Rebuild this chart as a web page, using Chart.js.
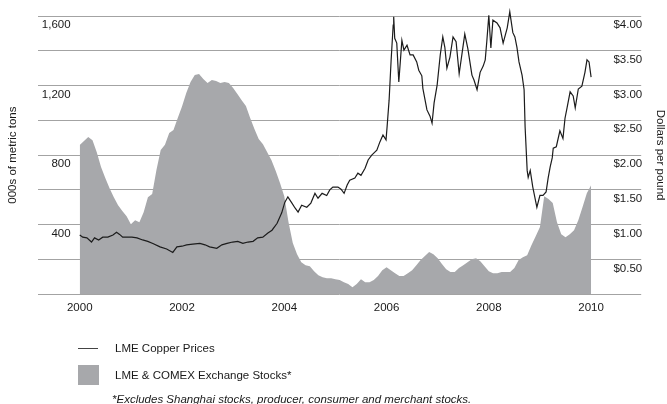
<!DOCTYPE html>
<html>
<head>
<meta charset="utf-8">
<script src="https://cdn.jsdelivr.net/npm/chart.js@4.4.1/dist/chart.umd.min.js"></script>
<style>
  html, body { margin: 0; padding: 0; background: #fff; }
  #wrap {
    position: relative;
    width: 667px;
    height: 404px;
    font-family: "Liberation Sans", Arial, Helvetica, sans-serif;
    color: #1a1a1a;
  }
  #chart { position: absolute; left: 0; top: 0; }
  .swatch { position: absolute; left: 78px; }
  .lbl { position: absolute; left: 115px; font-size: 11.5px; line-height: 14px; white-space: nowrap; }
  #note { position: absolute; left: 112px; top: 392px; font-size: 11.5px; line-height: 14px; font-style: italic; white-space: nowrap; }
</style>
</head>
<body>
<div id="wrap">
  <canvas id="chart" width="667" height="404"></canvas>
  <div id="legend"></div>
  <div id="note">*Excludes Shanghai stocks, producer, consumer and merchant stocks.</div>
</div>
<script>
// LME copper price, $ per pound
const priceYears = [
  2000.00, 2000.06, 2000.14, 2000.23, 2000.29, 2000.37, 2000.45, 2000.55, 2000.65, 2000.72,
  2000.78, 2000.84, 2000.94, 2001.02, 2001.12, 2001.23, 2001.33, 2001.43, 2001.57, 2001.70,
  2001.82, 2001.90, 2002.00, 2002.09, 2002.21, 2002.35, 2002.45, 2002.54, 2002.68, 2002.78,
  2002.88, 2002.99, 2003.09, 2003.19, 2003.29, 2003.39, 2003.48, 2003.58, 2003.68, 2003.76,
  2003.86, 2003.95, 2004.01, 2004.07, 2004.15, 2004.21, 2004.27, 2004.34, 2004.44, 2004.52,
  2004.60, 2004.66, 2004.74, 2004.83, 2004.89, 2004.95, 2005.05, 2005.11, 2005.17, 2005.23,
  2005.28, 2005.38, 2005.44, 2005.50, 2005.58, 2005.64, 2005.71, 2005.81, 2005.87, 2005.93,
  2005.99, 2006.01, 2006.05, 2006.09, 2006.13, 2006.14, 2006.16, 2006.20, 2006.24, 2006.30,
  2006.34, 2006.40, 2006.46, 2006.52, 2006.59, 2006.63, 2006.69, 2006.71, 2006.79, 2006.85,
  2006.89, 2006.93, 2006.99, 2007.05, 2007.10, 2007.14, 2007.18, 2007.24, 2007.30, 2007.36,
  2007.42, 2007.48, 2007.53, 2007.59, 2007.67, 2007.71, 2007.77, 2007.83, 2007.89, 2007.93,
  2007.96, 2008.00, 2008.04, 2008.08, 2008.16, 2008.22, 2008.28, 2008.36, 2008.41, 2008.47,
  2008.51, 2008.55, 2008.59, 2008.65, 2008.69, 2008.71, 2008.75, 2008.77, 2008.81, 2008.86,
  2008.94, 2009.00, 2009.06, 2009.12, 2009.16, 2009.20, 2009.24, 2009.26, 2009.32, 2009.39,
  2009.45, 2009.49, 2009.53, 2009.59, 2009.65, 2009.69, 2009.75, 2009.82, 2009.88, 2009.92,
  2009.96, 2010.00
];
const priceValues = [
  0.85, 0.82, 0.81, 0.75, 0.81, 0.78, 0.82, 0.82, 0.85, 0.89,
  0.86, 0.82, 0.82, 0.82, 0.81, 0.78, 0.76, 0.73, 0.68, 0.65,
  0.60, 0.68, 0.69, 0.71, 0.72, 0.73, 0.71, 0.68, 0.66, 0.71,
  0.73, 0.75, 0.76, 0.73, 0.75, 0.76, 0.81, 0.82, 0.88, 0.92,
  1.02, 1.17, 1.32, 1.40, 1.31, 1.24, 1.18, 1.28, 1.25, 1.31,
  1.45, 1.38, 1.45, 1.42, 1.50, 1.54, 1.54, 1.51, 1.45, 1.57,
  1.64, 1.67, 1.74, 1.71, 1.81, 1.93, 2.00, 2.07, 2.19, 2.29,
  2.22, 2.40, 2.79, 3.37, 3.87, 3.99, 3.68, 3.61, 3.05, 3.65,
  3.51, 3.58, 3.44, 3.44, 3.34, 3.22, 3.14, 2.96, 2.65, 2.56,
  2.46, 2.75, 3.01, 3.44, 3.70, 3.55, 3.25, 3.41, 3.70, 3.63,
  3.17, 3.48, 3.74, 3.53, 3.15, 3.08, 2.94, 3.19, 3.28, 3.37,
  3.63, 4.01, 3.54, 3.94, 3.90, 3.83, 3.61, 3.83, 4.06, 3.76,
  3.70, 3.55, 3.34, 3.15, 2.94, 2.40, 1.78, 1.68, 1.78, 1.54,
  1.25, 1.42, 1.42, 1.47, 1.67, 1.83, 1.96, 2.10, 2.12, 2.35,
  2.24, 2.53, 2.68, 2.91, 2.85, 2.68, 2.95, 2.99, 3.19, 3.37,
  3.34, 3.12
];

// LME & COMEX exchange stocks, 000s of metric tons, monthly Jan 2000 - Jan 2010
const stockValues = [
  858, 881, 904, 886, 817, 731, 668, 610, 558, 512, 478, 449,
  403, 426, 414, 472, 558, 576, 714, 829, 860, 927, 944, 1013,
  1080, 1157, 1220, 1260, 1266, 1237, 1214, 1232, 1226, 1214, 1220, 1214,
  1186, 1151, 1116, 1082, 1013, 950, 892, 863, 817, 771, 708, 639,
  564, 414, 294, 230, 184, 167, 161, 132, 109, 98, 92, 92,
  86, 81, 69, 58, 40, 58, 86, 69, 69, 81, 104, 138,
  155, 138, 121, 104, 104, 121, 138, 167, 196, 219, 242, 230,
  207, 173, 144, 127, 127, 150, 167, 184, 201, 207, 190, 161,
  132, 121, 121, 127, 127, 127, 150, 196, 213, 224, 282, 334,
  386, 564, 547, 524, 414, 345, 328, 345, 368, 426, 501, 581,
  627
];
const stockDates = stockValues.map((v, i) => 2000 + i / 12);

const yearTicks = [2000, 2002, 2004, 2006, 2008, 2010];

const LINE_COLOR = '#1c1c1c';
const AREA_COLOR = '#a7a8ab';
const TEXT_COLOR = '#1a1a1a';
const GRID_COLOR = '#a3a3a3';

Chart.defaults.font.family = '"Liberation Sans", Arial, Helvetica, sans-serif';
Chart.defaults.font.size = 11.5;
Chart.defaults.color = TEXT_COLOR;

const chart = new Chart(document.getElementById('chart'), {
  type: 'line',
  data: {
    datasets: [
      {
        label: 'LME Copper Prices',
        data: priceYears.map((x, i) => ({ x: x, y: priceValues[i] })),
        yAxisID: 'yR',
        borderColor: LINE_COLOR,
        backgroundColor: LINE_COLOR,
        borderWidth: 1.2,
        pointRadius: 0,
        tension: 0,
        fill: false,
        clip: false
      },
      {
        label: 'LME & COMEX Exchange Stocks*',
        data: stockDates.map((x, i) => ({ x: x, y: stockValues[i] })),
        yAxisID: 'y',
        borderColor: AREA_COLOR,
        backgroundColor: AREA_COLOR,
        borderWidth: 0,
        pointRadius: 0,
        tension: 0,
        fill: 'origin'
      }
    ]
  },
  options: {
    responsive: false,
    animation: false,
    layout: { padding: { top: 16, left: 2, right: 0, bottom: 82 } },
    plugins: {
      legend: { display: false },
      tooltip: { enabled: false }
    },
    scales: {
      x: {
        type: 'linear',
        min: 1999.18,
        max: 2010.98,
        grid: { display: false, drawTicks: false },
        border: { display: false },
        afterBuildTicks(axis) {
          axis.ticks = yearTicks.map(v => ({ value: v }));
        },
        ticks: {
          padding: 7,
          maxRotation: 0,
          callback: v => String(v)
        }
      },
      y: {
        position: 'left',
        min: 0,
        max: 1600,
        grid: { color: GRID_COLOR, lineWidth: 1, drawTicks: false },
        border: { display: false },
        ticks: {
          stepSize: 200,
          mirror: true,
          crossAlign: 'far',
          padding: 4,
          labelOffset: 9,
          callback: v => (v > 0 && v % 400 === 0) ? v.toLocaleString('en-US') : ''
        },
        title: {
          display: true,
          text: '000s of metric tons',
          padding: { top: 4, bottom: 10 },
          font: { size: 11.5 }
        }
      },
      yR: {
        position: 'right',
        min: 0,
        max: 4,
        grid: { display: false, drawTicks: false },
        border: { display: false },
        ticks: {
          stepSize: 0.5,
          mirror: true,
          crossAlign: 'near',
          padding: 1,
          labelOffset: 9,
          callback: v => v > 0 ? '$' + v.toFixed(2) : ''
        },
        title: {
          display: true,
          text: 'Dollars per pound',
          padding: { top: 0, bottom: 10 },
          font: { size: 11.5 }
        }
      }
    }
  }
});

// legend built from the chart's own datasets
function buildLegend() {
  const box = document.getElementById('legend');
  const rows = [
    { top: 341, swatch: { top: 348, width: 20, height: 1 } },
    { top: 368, swatch: { top: 365, width: 21, height: 20 } }
  ];
  chart.data.datasets.forEach((ds, i) => {
    const r = rows[i];
    const sw = document.createElement('div');
    sw.className = 'swatch';
    sw.style.top = r.swatch.top + 'px';
    sw.style.width = r.swatch.width + 'px';
    sw.style.height = r.swatch.height + 'px';
    sw.style.background = i === 0 ? '#444' : ds.backgroundColor;
    box.appendChild(sw);

    const lbl = document.createElement('div');
    lbl.className = 'lbl';
    lbl.style.top = r.top + 'px';
    lbl.textContent = ds.label;
    box.appendChild(lbl);
  });
}
buildLegend();
</script>
</body>
</html>
